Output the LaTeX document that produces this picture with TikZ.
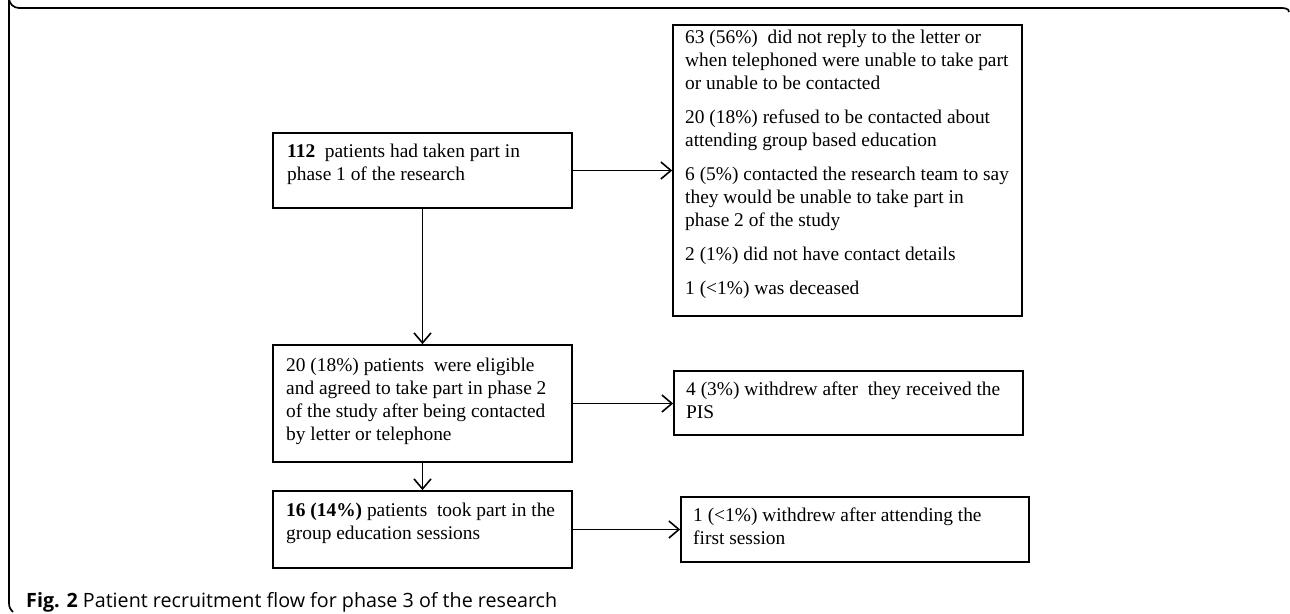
\documentclass[tikz,border=0pt]{standalone}
\usepackage{fontspec}
\setmainfont{Liberation Serif}
\newfontfamily\capfont{Open Sans}
\usetikzlibrary{arrows.meta}
\begin{document}
\begin{tikzpicture}[x=1pt,y=-1pt,
  stepbox/.style={draw, line width=1.7pt, inner sep=0pt, minimum width=#1},
  txt/.style={anchor=north west, inner sep=0pt, align=left, font=\fontsize{19.4}{23}\selectfont},
  arr/.style={line width=1.6pt, -{Straight Barb[length=10pt,width=17pt,line width=1.6pt]}}]
\useasboundingbox (0,0) rectangle (1290,613);
% outer frame
\draw[line width=1.7pt] (1289,12) to[out=-90+180,in=0] (1280,8) -- (19,8)
  arc[start angle=90,end angle=180,radius=10] -- (9,603) to[out=-90,in=135] (13,612);
% boxes
\node[stepbox=299pt, minimum height=75pt] (a) at (422.5,170.5) {};
\node[stepbox=299pt, minimum height=117pt] (b) at (422.5,403.5) {};
\node[stepbox=299pt, minimum height=77pt] (c) at (422.5,529.5) {};
\node[stepbox=349pt, minimum height=291pt] (f) at (847.5,170.5) {};
\node[stepbox=349pt, minimum height=64pt] (d) at (848.5,403) {};
\node[stepbox=348pt, minimum height=65pt] (e) at (855,529.5) {};
% texts
\node[txt] (ta) at (287,141.5) {\strut\textbf{112}\ \ patients had taken part in\\phase 1 of the research};
\node[txt] (tb) at (286,355) {\strut 20 (18\%) patients\ \ were eligible\\and agreed to take part in phase 2\\of the study after being contacted\\by letter or telephone};
\node[txt] (tc) at (286,500) {\strut\textbf{16 (14\%)} patients\ \ took part in the\\group education sessions};
\node[txt] (td) at (686,379.5) {\strut 4 (3\%) withdrew after\ \ they received the\\PIS};
\node[txt] (te) at (693,505.5) {\strut 1 (<1\%) withdrew after attending the\\first session};
\node[txt] (tf) at (685,27.5) {\strut 63 (56\%)\ \ did not reply to the letter or\\when telephoned were unable to take part\\or unable to be contacted\\[11pt]
20 (18\%) refused to be contacted about\\attending group based education\\[11pt]
6 (5\%) contacted the research team to say\\they would be unable to take part in\\phase 2 of the study\\[11pt]
2 (1\%) did not have contact details\\[11pt]
1 (<1\%) was deceased};
% caption
\node[anchor=base west, inner sep=0pt, font=\capfont\fontsize{19.7}{22}\selectfont] (cap) at (26,607) {\textbf{Fig. 2} Patient recruitment flow for phase 3 of the research};
% connectors
\draw[arr] (a.south) -- (b.north);
\draw[arr] (b.south) -- (c.north);
\draw[arr] (a.east) -- (f.west);
\draw[arr] (b.east) -- (b.east -| d.west);
\draw[arr] (c.east) -- (c.east -| e.west);
\end{tikzpicture}
\end{document}
